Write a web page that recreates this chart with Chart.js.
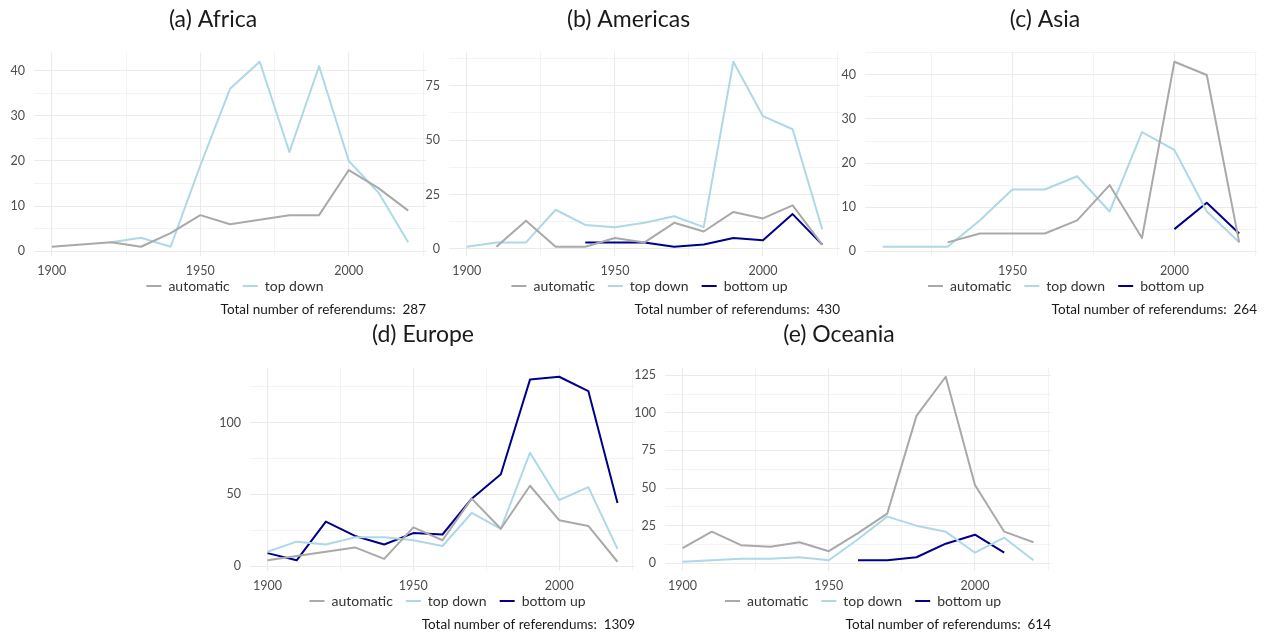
<!DOCTYPE html>
<html>
<head>
<meta charset="utf-8">
<title>Referendums by decade and region</title>
<script src="https://cdn.jsdelivr.net/npm/chart.js@4.4.1/dist/chart.umd.min.js"></script>
<style>
  html, body { margin: 0; padding: 0; background: #ffffff; }
  body { width: 1267px; height: 636px; position: relative; overflow: hidden; }
  canvas { position: absolute; }
</style>
</head>
<body>
<canvas id="africa"></canvas>
<canvas id="americas"></canvas>
<canvas id="asia"></canvas>
<canvas id="europe"></canvas>
<canvas id="oceania"></canvas>
<script>
// Decades (x values shared by every panel)
const decades = [1900, 1910, 1920, 1930, 1940, 1950, 1960, 1970, 1980, 1990, 2000, 2010, 2020];

// Series names and colours
const seriesNames = ['automatic', 'top down', 'bottom up'];
const seriesColors = ['#a9a9a9', '#add8e6', '#00008b'];

// Africa
const africaAutomatic = [1, null, 2, 1, 4, 8, 6, 7, 8, 8, 18, 14, 9];
const africaTopDown   = [null, null, 2, 3, 1, 19, 36, 42, 22, 41, 20, 13, 2];
const africaTotal = 287;

// Americas
const americasAutomatic = [null, 1, 13, 1, 1, 5, 3, 12, 8, 17, 14, 20, 2];
const americasTopDown   = [1, 3, 3, 18, 11, 10, 12, 15, 10, 86, 61, 55, 9];
const americasBottomUp  = [null, null, null, null, 3, 3, 3, 1, 2, 5, 4, 16, 2];
const americasTotal = 430;

// Asia
const asiaAutomatic = [null, null, null, 2, 4, 4, 4, 7, 15, 3, 43, 40, 2];
const asiaTopDown   = [null, 1, 1, 1, 7, 14, 14, 17, 9, 27, 23, 9, 2];
const asiaBottomUp  = [null, null, null, null, null, null, null, null, null, null, 5, 11, 4];
const asiaTotal = 264;

// Europe
const europeAutomatic = [4, 7, 10, 13, 5, 27, 18, 47, 26, 56, 32, 28, 3];
const europeTopDown   = [10, 17, 15, 20, 20, 18, 14, 37, 26, 79, 46, 55, 12];
const europeBottomUp  = [9, 4, 31, 21, 15, 23, 22, 47, 64, 130, 132, 122, 44];
const europeTotal = 1309;

// Oceania
const oceaniaAutomatic = [10, 21, 12, 11, 14, 8, 20, 33, 98, 124, 52, 21, 14];
const oceaniaTopDown   = [1, 2, 3, 3, 4, 2, 16, 31, 25, 21, 7, 17, 2];
const oceaniaBottomUp  = [null, null, null, null, null, null, 2, 2, 4, 13, 19, 7, null];
const oceaniaTotal = 614;

// Axis breaks
const xGridYears  = [1900, 1925, 1950, 1975, 2000, 2025];
const xLabelYears = [1900, 1950, 2000];
const africaYTicks   = [0, 10, 20, 30, 40];
const americasYTicks = [0, 25, 50, 75];
const asiaYTicks     = [0, 10, 20, 30, 40];
const europeYTicks   = [0, 50, 100];
const oceaniaYTicks  = [0, 25, 50, 75, 100, 125];

const FONT = 'Lato, "Open Sans", "DejaVu Sans", sans-serif';
const GRID = '#ebebeb';

// Keeps the legend row tucked just under the year labels
const legendRow = {
  id: 'legendRow',
  afterLayout(chart) {
    const lg = chart.legend;
    if (!lg) return;
    const area = chart.chartArea;
    lg.top = area.bottom + 10;
    lg.bottom = lg.top + 36;
    lg.left = area.left + 5;
    lg.right = area.right + 5;
  }
};

function drawPanel(id, place, titleText, total, seriesValues, yMajor) {
  const canvas = document.getElementById(id);
  canvas.width = place.w;
  canvas.height = 320;
  canvas.style.left = place.x + 'px';
  canvas.style.top = place.y + 'px';

  // Data range with a 5% margin on each side
  const allValues = seriesValues.flat().filter(v => v !== null);
  const yLo = Math.min(...allValues), yHi = Math.max(...allValues);
  const yPad = 0.05 * (yHi - yLo);
  const usedYears = decades.filter((d, i) => seriesValues.some(s => s[i] !== null));
  const xLo = Math.min(...usedYears), xHi = Math.max(...usedYears);
  const xPad = 0.05 * (xHi - xLo);

  // Major breaks plus the minor breaks halfway between them
  const half = (yMajor[1] - yMajor[0]) / 2;
  const yGrid = [];
  for (let v = yMajor[0]; v <= yHi + yPad; v += half) yGrid.push(v);

  const datasets = seriesValues.map((vals, k) => ({
    label: seriesNames[k],
    data: decades.map((d, i) => ({ x: d, y: vals[i] })),
    borderColor: seriesColors[k],
    backgroundColor: seriesColors[k],
    borderWidth: 2,
    pointRadius: 0,
    pointHoverRadius: 0,
    tension: 0,
    spanGaps: true,
    fill: false,
    borderJoinStyle: 'round',
    borderCapStyle: 'butt'
  }));

  new Chart(canvas, {
    type: 'line',
    data: { datasets },
    plugins: [legendRow],
    options: {
      responsive: false,
      maintainAspectRatio: false,
      animation: false,
      events: [],
      layout: { autoPadding: false, padding: { top: 0, left: 0, right: 0, bottom: 3.25 } },
      scales: {
        x: {
          type: 'linear',
          min: xLo - xPad,
          max: xHi + xPad,
          afterBuildTicks: sc => {
            sc.ticks = xGridYears.filter(v => v >= sc.min && v <= sc.max).map(v => ({ value: v }));
          },
          afterFit: sc => { sc.height = 23; sc.paddingLeft = 0; sc.paddingRight = 0; },
          grid: {
            color: GRID,
            lineWidth: c => (c.tick && xLabelYears.includes(c.tick.value)) ? 1.1 : 0.6,
            drawTicks: false
          },
          border: { display: false },
          ticks: {
            padding: 7.5,
            autoSkip: false,
            maxRotation: 0,
            color: '#4d4d4d',
            font: { family: FONT, size: 12.5 },
            callback: v => xLabelYears.includes(v) ? String(v) : ''
          }
        },
        y: {
          type: 'linear',
          min: yLo - yPad,
          max: yHi + yPad,
          afterBuildTicks: sc => { sc.ticks = yGrid.map(v => ({ value: v })); },
          afterFit: sc => { sc.width = place.axisW; sc.paddingTop = 0; sc.paddingBottom = 0; },
          grid: {
            color: GRID,
            lineWidth: c => (c.tick && yMajor.includes(c.tick.value)) ? 1.1 : 0.6,
            drawTicks: false
          },
          border: { display: false },
          ticks: {
            padding: 9,
            autoSkip: false,
            color: '#4d4d4d',
            font: { family: FONT, size: 12.5 },
            callback: v => yMajor.includes(v) ? String(v) : ''
          }
        }
      },
      plugins: {
        title: {
          display: true,
          text: titleText,
          color: '#1a1a1a',
          font: { family: FONT, size: 23, weight: 'normal', lineHeight: 1 },
          padding: { top: 8, bottom: 21.5 }
        },
        legend: {
          display: true,
          position: 'bottom',
          align: 'center',
          fullSize: false,
          maxHeight: 24,
          labels: {
            usePointStyle: true,
            pointStyle: 'line',
            pointStyleWidth: 15,
            padding: 13,
            color: '#333333',
            font: { family: FONT, size: 14 }
          }
        },
        subtitle: {
          display: true,
          position: 'bottom',
          align: 'end',
          text: 'Total number of referendums:  ' + total,
          color: '#1a1a1a',
          font: { family: FONT, size: 13.5, weight: 'normal', lineHeight: 1 },
          padding: { top: 0.25, bottom: 0 }
        },
        tooltip: { enabled: false }
      }
    }
  });
}

drawPanel('africa',   { x: 0,   y: 0,   w: 426, axisW: 34 }, '(a) Africa',   africaTotal,
  [africaAutomatic, africaTopDown], africaYTicks);
drawPanel('americas', { x: 417, y: 0,   w: 423, axisW: 32 }, '(b) Americas', americasTotal,
  [americasAutomatic, americasTopDown, americasBottomUp], americasYTicks);
drawPanel('asia',     { x: 833, y: 0,   w: 424, axisW: 32 }, '(c) Asia',     asiaTotal,
  [asiaAutomatic, asiaTopDown, asiaBottomUp], asiaYTicks);
drawPanel('europe',   { x: 211, y: 315, w: 424, axisW: 39 }, '(d) Europe',   europeTotal,
  [europeAutomatic, europeTopDown, europeBottomUp], europeYTicks);
drawPanel('oceania',  { x: 627, y: 315, w: 424, axisW: 38 }, '(e) Oceania',  oceaniaTotal,
  [oceaniaAutomatic, oceaniaTopDown, oceaniaBottomUp], oceaniaYTicks);
</script>
</body>
</html>
